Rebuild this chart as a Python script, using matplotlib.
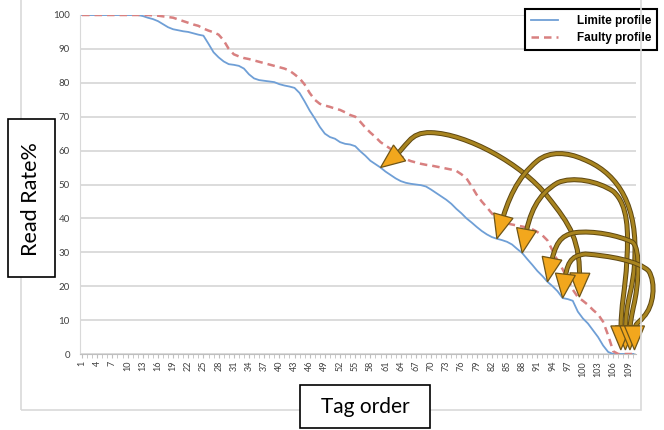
import numpy as np
import matplotlib.pyplot as plt
from matplotlib.path import Path
from matplotlib.patches import PathPatch, Polygon, Rectangle
import matplotlib.patheffects as pe

plt.rcParams['font.family'] = ['Lato', 'DejaVu Sans']

# Read rate (%) per tag, tags ordered 1..110
tags = np.arange(1, 111)
limite = [100, 100, 100, 100, 100, 100, 100, 100, 100, 100,
          100, 100, 99.7, 99.2, 98.8, 98.2, 97.3, 96.4, 95.8, 95.5,
          95.2, 95.0, 94.6, 94.2, 93.9, 91.5, 89.0, 87.5, 86.3, 85.5,
          85.3, 85.0, 84.2, 82.5, 81.3, 80.8, 80.6, 80.4, 80.2, 79.6,
          79.2, 78.9, 78.5, 77.0, 74.5, 71.8, 69.5, 67.0, 65.0, 64.0,
          63.5, 62.5, 62.0, 61.8, 61.3, 59.8, 58.5, 57.0, 56.0, 55.0,
          53.8, 52.8, 51.8, 51.0, 50.5, 50.2, 50.0, 49.8, 49.4, 48.5,
          47.5, 46.5, 45.5, 44.3, 42.8, 41.5, 40.0, 38.8, 37.5, 36.3,
          35.3, 34.5, 34.0, 33.6, 33.1, 32.3, 31.0, 29.8, 28.0, 26.3,
          24.5, 23.0, 21.3, 20.0, 18.5, 16.5, 16.2, 15.7, 12.5, 10.5,
          9.0, 7.0, 5.0, 2.5, 0.6, 0, 0, 0, 0, 0]
faulty = [100, 100, 100, 100, 100, 100, 100, 100, 100, 100,
          100, 100, 100, 100, 99.9, 99.8, 99.6, 99.4, 99.2, 98.7,
          98.2, 97.7, 97.2, 96.8, 96.0, 95.4, 94.9, 94.2, 92.5, 90.0,
          88.4, 87.8, 87.3, 87.0, 86.6, 86.2, 85.8, 85.4, 85.0, 84.6,
          84.2, 83.6, 82.5, 81.3, 79.5, 77.0, 75.0, 73.8, 73.3, 72.9,
          72.4, 72.0, 71.3, 70.5, 70.0, 68.5, 66.8, 65.3, 64.0, 62.5,
          61.5, 60.5, 59.3, 58.3, 57.5, 56.9, 56.5, 56.1, 55.8, 55.6,
          55.3, 55.0, 54.7, 54.4, 54.0, 53.0, 51.8, 49.5, 47.0, 45.0,
          43.3, 41.5, 39.8, 39.0, 38.5, 38.2, 37.9, 37.6, 37.3, 36.8,
          36.0, 35.0, 33.5, 30.5, 27.5, 25.0, 22.0, 19.0, 16.8, 15.7,
          14.5, 13.0, 11.7, 9.5, 5.5, 0.8, 0, 0, 0, 0]
xtick_labels = [str(t) for t in tags[::3]]

# curved double-headed arrows: first point sits on a curve, the rest are bezier controls
arrow_paths = [
    [(60, limite[59]), (63.5, 59), (65.5, 65.5), (70, 65.3),
     (77, 65), (88, 56), (93, 46.5),
     (97.5, 38), (99.5, 30), (99.3, faulty[98])],
    [(83, limite[82]), (84.5, 42), (87, 52), (91, 57),
     (93.5, 60), (97, 59.5), (100, 57.5),
     (106, 54), (110.5, 46), (110.3, 30),
     (110.2, 18), (108.4, 14), (108.4, 1.2)],
    [(88, limite[87]), (89, 38), (91, 47), (95, 50.5),
     (98, 52.5), (103, 51), (106, 48),
     (109, 44), (109, 36), (108.7, 28),
     (108.4, 18), (107.5, 12), (107.5, 1.2)],
    [(93, limite[92]), (94, 29), (95.5, 35), (98.5, 35.8),
     (102, 36.5), (107, 35), (109.8, 33),
     (111.5, 31), (111, 20), (110, 14),
     (109.5, 10), (109.3, 6), (109.3, 1.2)],
    [(96, limite[95]), (96.5, 23), (97.5, 29), (100.5, 29.5),
     (105, 29), (111, 27.5), (113, 24.5),
     (114.5, 21), (114, 14), (112, 11),
     (110.8, 8.5), (110.2, 6), (110.2, 1.2)],
]

fig = plt.figure(figsize=(6.64, 4.30), dpi=100)

# light chart frame behind everything
fig.patches.append(Rectangle((21 / 664, 20 / 430), 620 / 664, 1.0, transform=fig.transFigure,
                             fill=False, edgecolor='#d9d9d9', lw=1.2, zorder=0))

ax = fig.add_axes([79.5 / 664, 76 / 430, 556.5 / 664, 339 / 430])
ax.plot(tags, limite, color='#6f9fd6', lw=1.3, label='Limite profile', zorder=3)
ax.plot(tags, faulty, color='#d88080', lw=1.8, ls=(0, (3, 2)), label='Faulty profile', zorder=3)

ax.set_xlim(0.5, 110.5)
ax.set_ylim(0, 100)
ax.set_yticks(range(0, 101, 10))
ax.set_xticks(tags[::3])
ax.set_xticklabels(xtick_labels, rotation=90, fontsize=6.5, color='#404040')
ax.set_xticks(tags, minor=True)
ax.grid(axis='y', color='#d9d9d9', lw=1.3)
ax.set_axisbelow(True)
for s in ['top', 'right']:
    ax.spines[s].set_visible(False)
ax.spines['left'].set_color('#d9d9d9')
ax.spines['bottom'].set_color('#bfbfbf')
ax.tick_params(axis='y', length=0, labelsize=7, labelcolor='#404040', pad=7)
ax.tick_params(axis='x', which='both', length=3, color='#bfbfbf', pad=2)

to_px = ax.transData
to_data = ax.transData.inverted()


def head_and_cut(tip, ctrl, length=24.0, half=10.0):
    """Triangle head (data coords) at tip, plus the tip pulled back so the stroke ends inside it."""
    t = to_px.transform(tip)
    c = to_px.transform(ctrl)
    d = (t - c) / np.linalg.norm(t - c)
    n = np.array([-d[1], d[0]])
    base = t - d * length
    tri = to_data.transform(np.array([t, base + n * half, base - n * half]))
    cut = to_data.transform(t - d * 13)
    shift = cut - np.asarray(tip)
    return tri, cut, np.asarray(ctrl) + shift


for pts in arrow_paths:
    pts = [np.asarray(p, float) for p in pts]
    tri_a, cut_a, ctrl_a = head_and_cut(pts[0], pts[1])
    tri_b, cut_b, ctrl_b = head_and_cut(pts[-1], pts[-2])
    verts = [cut_a, ctrl_a] + pts[2:-2] + [ctrl_b, cut_b]
    codes = [Path.MOVETO] + [Path.CURVE4] * (len(verts) - 1)
    ax.add_patch(PathPatch(Path(verts, codes), fill=False, edgecolor='#a8841f', lw=2.2,
                           capstyle='butt', clip_on=False, zorder=5,
                           path_effects=[pe.Stroke(linewidth=3.6, foreground='#5e4712'),
                                         pe.Normal()]))
    for tri in (tri_a, tri_b):
        ax.add_patch(Polygon(tri, closed=True, facecolor='#f2a71d', edgecolor='#6e5518',
                             lw=0.9, clip_on=False, zorder=6))

leg = ax.legend(loc='upper left', bbox_to_anchor=(525 / 664, 1 - 9 / 430),
                bbox_transform=fig.transFigure, fancybox=False, edgecolor='black',
                prop={'family': 'Liberation Sans', 'weight': 'bold', 'size': 8.5},
                handlelength=2.3, handletextpad=1.6, borderpad=0.5, labelspacing=0.45,
                borderaxespad=0, framealpha=1)
leg.get_frame().set_linewidth(1.5)
leg.set_zorder(10)

# boxed axis titles
fig.patches.append(Rectangle((8 / 664, 153 / 430), 47 / 664, 158 / 430, transform=fig.transFigure,
                             facecolor='white', edgecolor='black', lw=1.2, zorder=2))
fig.text(31 / 664, 1 - 199 / 430, 'Read Rate%', rotation=90, ha='center', va='center',
         fontsize=15.5, zorder=3)
fig.patches.append(Rectangle((300 / 664, 2 / 430), 130 / 664, 43 / 430, transform=fig.transFigure,
                             facecolor='white', edgecolor='black', lw=1.2, zorder=2))
fig.text(365 / 664, 1 - 407 / 430, 'Tag order', ha='center', va='center', fontsize=15, zorder=3)

fig.savefig('out.png', dpi=100)
